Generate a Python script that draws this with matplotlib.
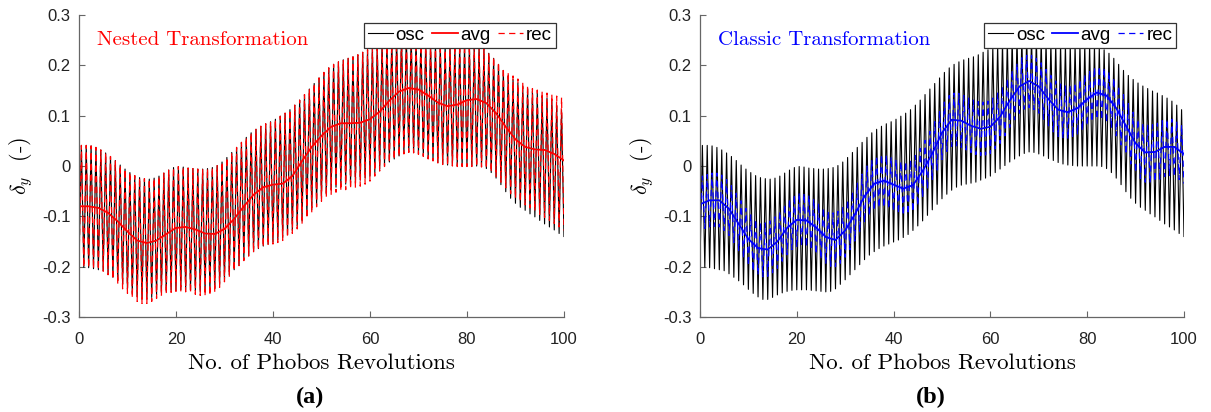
import matplotlib
matplotlib.use("Agg")
import matplotlib.pyplot as plt
import numpy as np

plt.rcParams['axes.unicode_minus'] = False
plt.rcParams['mathtext.fontset'] = 'cm'

# revolutions (one oscillation per Phobos revolution)
rev = np.arange(101)

# oscillating solution: troughs at each revolution, peaks half a revolution later
osc_trough = [-0.200, -0.201, -0.202, -0.204, -0.206, -0.208, -0.214, -0.221, -0.228, -0.236,
              -0.245, -0.253, -0.260, -0.265, -0.265, -0.261, -0.256, -0.252, -0.249, -0.247,
              -0.246, -0.246, -0.246, -0.247, -0.248, -0.249, -0.250, -0.249, -0.244, -0.235,
              -0.226, -0.216, -0.206, -0.196, -0.186, -0.177, -0.170, -0.164, -0.159, -0.155,
              -0.151, -0.147, -0.142, -0.136, -0.128, -0.119, -0.109, -0.098, -0.087, -0.076,
              -0.065, -0.056, -0.048, -0.042, -0.038, -0.036, -0.034, -0.032, -0.028, -0.024,
              -0.020, -0.013, -0.006, 0.001, 0.008, 0.014, 0.020, 0.025, 0.028, 0.027,
              0.024, 0.020, 0.015, 0.011, 0.007, 0.004, 0.002, 0.001, 0.000, 0.000,
              0.000, 0.000, 0.000, -0.001, -0.005, -0.013, -0.024, -0.037, -0.051, -0.064,
              -0.074, -0.082, -0.088, -0.095, -0.101, -0.108, -0.115, -0.121, -0.127, -0.134,
              -0.140]
osc_peak = [0.041, 0.041, 0.040, 0.037, 0.032, 0.026, 0.019, 0.011, 0.002, -0.006,
            -0.013, -0.019, -0.023, -0.025, -0.026, -0.024, -0.020, -0.014, -0.008, -0.003,
            -0.001, -0.002, -0.004, -0.005, -0.006, -0.006, -0.005, -0.003, 0.001, 0.008,
            0.017, 0.027, 0.037, 0.047, 0.057, 0.066, 0.073, 0.079, 0.084, 0.088,
            0.093, 0.099, 0.105, 0.112, 0.121, 0.131, 0.142, 0.153, 0.164, 0.175,
            0.186, 0.195, 0.202, 0.207, 0.211, 0.214, 0.217, 0.221, 0.226, 0.231,
            0.236, 0.241, 0.246, 0.250, 0.254, 0.257, 0.259, 0.260, 0.259, 0.256,
            0.252, 0.248, 0.245, 0.243, 0.242, 0.241, 0.241, 0.241, 0.241, 0.241,
            0.240, 0.239, 0.236, 0.231, 0.224, 0.214, 0.202, 0.190, 0.180, 0.172,
            0.165, 0.159, 0.154, 0.149, 0.145, 0.140, 0.135, 0.129, 0.121, 0.112]

# averaged solutions, every second revolution
rev_avg = np.arange(0, 101, 2)
avg_nested = [-0.080, -0.080, -0.083, -0.093, -0.110, -0.130, -0.148, -0.153, -0.148, -0.135,
              -0.123, -0.121, -0.126, -0.134, -0.135, -0.125, -0.105, -0.080, -0.057, -0.042,
              -0.037, -0.035, -0.020, 0.010, 0.038, 0.060, 0.078, 0.085, 0.085, 0.086,
              0.093, 0.108, 0.130, 0.148, 0.155, 0.152, 0.140, 0.126, 0.119, 0.122,
              0.131, 0.133, 0.125, 0.105, 0.078, 0.053, 0.038, 0.033, 0.032, 0.024,
              0.011]
avg_classic = [-0.076, -0.068, -0.068, -0.085, -0.115, -0.145, -0.163, -0.166, -0.150, -0.123,
               -0.107, -0.108, -0.122, -0.141, -0.147, -0.128, -0.096, -0.060, -0.035, -0.029,
               -0.037, -0.045, -0.038, -0.010, 0.025, 0.066, 0.092, 0.090, 0.080, 0.074,
               0.078, 0.098, 0.130, 0.158, 0.169, 0.158, 0.133, 0.112, 0.107, 0.115,
               0.133, 0.146, 0.140, 0.115, 0.080, 0.045, 0.027, 0.028, 0.038, 0.038,
               0.024]

# reconstructed oscillations
rec_nested_trough = [-0.200, -0.201, -0.202, -0.204, -0.206, -0.209, -0.216, -0.225, -0.235, -0.244,
                     -0.253, -0.262, -0.269, -0.273, -0.273, -0.269, -0.263, -0.258, -0.254, -0.251,
                     -0.249, -0.249, -0.250, -0.252, -0.255, -0.257, -0.258, -0.257, -0.251, -0.241,
                     -0.230, -0.219, -0.208, -0.198, -0.188, -0.179, -0.172, -0.166, -0.161, -0.158,
                     -0.155, -0.152, -0.148, -0.142, -0.134, -0.125, -0.115, -0.104, -0.092, -0.081,
                     -0.070, -0.062, -0.056, -0.052, -0.049, -0.047, -0.045, -0.043, -0.040, -0.036,
                     -0.030, -0.020, -0.010, -0.001, 0.007, 0.013, 0.019, 0.024, 0.027, 0.026,
                     0.023, 0.019, 0.014, 0.010, 0.006, 0.003, 0.001, 0.000, -0.001, -0.001,
                     -0.001, -0.001, -0.001, -0.002, -0.005, -0.012, -0.021, -0.032, -0.043, -0.055,
                     -0.064, -0.071, -0.077, -0.083, -0.089, -0.096, -0.102, -0.108, -0.114, -0.121,
                     -0.128]
rec_nested_peak = [0.041, 0.041, 0.040, 0.037, 0.032, 0.026, 0.019, 0.011, 0.002, -0.006,
                   -0.013, -0.019, -0.023, -0.025, -0.026, -0.024, -0.020, -0.014, -0.008, -0.003,
                   -0.001, -0.002, -0.004, -0.005, -0.006, -0.006, -0.005, -0.003, 0.001, 0.008,
                   0.017, 0.027, 0.037, 0.047, 0.057, 0.066, 0.073, 0.079, 0.084, 0.088,
                   0.093, 0.099, 0.105, 0.112, 0.121, 0.131, 0.142, 0.153, 0.164, 0.175,
                   0.186, 0.195, 0.202, 0.207, 0.211, 0.214, 0.217, 0.221, 0.226, 0.231,
                   0.236, 0.241, 0.246, 0.250, 0.254, 0.257, 0.259, 0.260, 0.259, 0.256,
                   0.252, 0.248, 0.245, 0.243, 0.242, 0.241, 0.241, 0.241, 0.241, 0.241,
                   0.240, 0.239, 0.237, 0.232, 0.225, 0.217, 0.206, 0.195, 0.186, 0.179,
                   0.173, 0.166, 0.160, 0.154, 0.151, 0.148, 0.145, 0.142, 0.139, 0.136]
rec_classic_trough = [-0.129, -0.124, -0.121, -0.120, -0.121, -0.128, -0.138, -0.152, -0.168, -0.183,
                      -0.198, -0.209, -0.216, -0.220, -0.219, -0.212, -0.203, -0.189, -0.176, -0.166,
                      -0.160, -0.159, -0.161, -0.167, -0.175, -0.185, -0.194, -0.199, -0.200, -0.193,
                      -0.181, -0.166, -0.149, -0.131, -0.113, -0.099, -0.088, -0.083, -0.082, -0.085,
                      -0.090, -0.095, -0.098, -0.096, -0.091, -0.079, -0.063, -0.046, -0.028, -0.008,
                      0.013, 0.029, 0.039, 0.040, 0.037, 0.032, 0.027, 0.023, 0.021, 0.022,
                      0.025, 0.034, 0.045, 0.060, 0.077, 0.092, 0.105, 0.113, 0.116, 0.112,
                      0.105, 0.093, 0.080, 0.068, 0.059, 0.055, 0.054, 0.057, 0.062, 0.070,
                      0.080, 0.088, 0.093, 0.092, 0.086, 0.075, 0.060, 0.042, 0.023, 0.004,
                      -0.013, -0.025, -0.032, -0.033, -0.031, -0.026, -0.021, -0.019, -0.021, -0.027,
                      -0.035]
rec_classic_peak = [-0.020, -0.017, -0.014, -0.014, -0.018, -0.027, -0.039, -0.054, -0.069, -0.084,
                    -0.097, -0.106, -0.112, -0.113, -0.109, -0.101, -0.090, -0.076, -0.065, -0.057,
                    -0.053, -0.054, -0.058, -0.065, -0.074, -0.083, -0.090, -0.093, -0.090, -0.081,
                    -0.067, -0.051, -0.034, -0.016, 0.000, 0.012, 0.020, 0.023, 0.022, 0.018,
                    0.013, 0.009, 0.009, 0.012, 0.021, 0.035, 0.051, 0.069, 0.088, 0.108,
                    0.127, 0.140, 0.145, 0.144, 0.140, 0.135, 0.131, 0.128, 0.127, 0.129,
                    0.135, 0.145, 0.158, 0.174, 0.190, 0.204, 0.215, 0.220, 0.220, 0.214,
                    0.205, 0.192, 0.180, 0.169, 0.163, 0.160, 0.161, 0.165, 0.172, 0.181,
                    0.190, 0.196, 0.198, 0.195, 0.187, 0.175, 0.159, 0.142, 0.124, 0.107,
                    0.093, 0.085, 0.081, 0.082, 0.085, 0.090, 0.093, 0.093, 0.089, 0.082]

yticks = [-0.3, -0.2, -0.1, 0, 0.1, 0.2, 0.3]
ytick_labels = ['-0.3', '-0.2', '-0.1', '0', '0.1', '0.2', '0.3']
xticks = [0, 20, 40, 60, 80, 100]


def zigzag(trough, peak):
    x = np.empty(2 * len(rev) - 1)
    y = np.empty_like(x)
    x[0::2] = rev
    x[1::2] = rev[:-1] + 0.5
    y[0::2] = trough
    y[1::2] = peak
    return x, y


fig = plt.figure(figsize=(12.11, 4.12), dpi=100)
ax_a = fig.add_axes([0.0652, 0.2305, 0.4005, 0.733])
ax_b = fig.add_axes([0.578, 0.2305, 0.3997, 0.733])

panels = [
    (ax_a, 'red', 'Nested Transformation', avg_nested, rec_nested_trough, rec_nested_peak, '(a)'),
    (ax_b, 'blue', 'Classic Transformation', avg_classic, rec_classic_trough, rec_classic_peak, '(b)'),
]

for ax, col, title, avg, rec_lo, rec_hi, tag in panels:
    xo, yo = zigzag(osc_trough, osc_peak)
    xr, yr = zigzag(rec_lo, rec_hi)
    l_osc, = ax.plot(xo, yo, color='black', lw=0.8, label='osc')
    l_rec, = ax.plot(xr, yr, color=col, lw=0.9, dashes=(5, 3.5), label='rec')
    l_avg, = ax.plot(rev_avg, avg, color=col, lw=1.3, label='avg')

    ax.set_xlim(0, 100)
    ax.set_ylim(-0.3, 0.3)
    ax.set_xticks(xticks)
    ax.set_xticklabels([str(t) for t in xticks])
    ax.set_yticks(yticks)
    ax.set_yticklabels(ytick_labels)
    for s in ['top', 'right']:
        ax.spines[s].set_visible(False)
    for s in ['left', 'bottom']:
        ax.spines[s].set_color('#666666')
        ax.spines[s].set_linewidth(0.9)
    ax.tick_params(direction='in', length=4, width=0.8, color='#666666',
                   labelsize=12, labelcolor='#222222')
    ax.tick_params(axis='x', pad=10.5)
    ax.tick_params(axis='y', pad=6)
    for lab in ax.get_xticklabels() + ax.get_yticklabels():
        lab.set_fontfamily('Liberation Sans')

    ax.set_xlabel('No. of Phobos Revolutions', fontfamily='cmr10', fontsize=16.5, labelpad=5)
    ax.set_ylabel(r'$\delta_y$  (-)', fontfamily='cmr10', fontsize=16, labelpad=5)
    ax.text(0.037, 0.917, title, transform=ax.transAxes, color=col,
            fontfamily='cmr10', fontsize=15, va='center', ha='left')
    ax.text(0.476, -0.265, tag, transform=ax.transAxes, ha='center', va='center',
            fontfamily='Liberation Serif', fontweight='bold', fontsize=17.5)

    leg = ax.legend(handles=[l_osc, l_avg, l_rec], loc='upper right',
                    bbox_to_anchor=(0.9835, 0.9735), borderaxespad=0, ncol=3,
                    prop={'family': 'Liberation Sans', 'size': 13.5},
                    handlelength=1.35, handletextpad=0.15, columnspacing=0.4,
                    borderpad=0.2, fancybox=False, framealpha=1)
    leg.get_frame().set_edgecolor('#333333')
    leg.get_frame().set_linewidth(0.9)

plt.savefig("out.png", dpi=100)
